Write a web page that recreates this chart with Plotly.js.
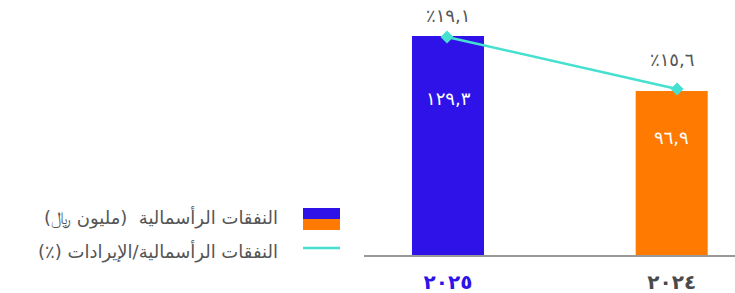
<!DOCTYPE html>
<html>
<head>
<meta charset="utf-8">
<script src="https://cdn.plot.ly/plotly-3.0.1.min.js"></script>
<style>html,body{margin:0;padding:0;background:#fff;}#chart{width:735px;height:293px;}</style>
</head>
<body>
<div id="chart"></div>
<script>
// Data
const years = ['2025', '2024'];
const yearLabels = ['٢٠٢٥', '٢٠٢٤'];
const capex = [129.3, 96.9];
const capexLabels = ['١٢٩,٣', '٩٦,٩'];
const ratio = [19.1, 15.6];
const ratioLabels = ['٪١٩,١', '٪١٥,٦'];
const legendNames = ['النفقات الرأسمالية  (مليون ﷼)', 'النفقات الرأسمالية/الإيرادات (٪)'];

const BLUE = '#2E12E8', ORANGE = '#FF7A00', TEAL = '#45E0CF', GREY = '#555555';
const barColors = [BLUE, ORANGE];
const tickColors = [BLUE, '#4a4a4a'];
const RLM = '\u200F';
const FONT = 'DejaVu Sans, sans-serif';

const traces = [
  {
    type: 'bar', x: years, y: capex, width: 0.322,
    marker: {color: barColors}, hoverinfo: 'none', showlegend: false
  },
  {
    type: 'scatter', mode: 'lines+markers', x: years, y: ratio,
    xaxis: 'x2', yaxis: 'y2',
    line: {color: TEAL, width: 2.5},
    marker: {symbol: 'diamond', size: 10, color: TEAL},
    hoverinfo: 'none', showlegend: false
  }
];

const annotations = [];
years.forEach((yr, i) => {
  annotations.push({
    x: i, xref: 'x', y: capex[i] * 0.715, yref: 'y',
    text: capexLabels[i], showarrow: false,
    font: {family: FONT, size: 18, color: '#ffffff'}
  });
  annotations.push({
    x: i, xref: 'x', y: ratio[i], yref: 'y2', yshift: i === 0 ? 21 : 29,
    text: ratioLabels[i], showarrow: false,
    font: {family: FONT, size: 18, color: GREY}
  });
});
// legend texts
const legendY = [0.1457, 0.0157];
legendNames.forEach((n, i) => {
  annotations.push({
    x: -0.2264, xref: 'paper', y: legendY[i], yref: 'paper',
    xanchor: 'right', yanchor: 'middle',
    text: RLM + n + RLM, showarrow: false,
    font: {family: FONT, size: 18, color: GREY}
  });
});

const shapes = [
  {type: 'rect', xref: 'paper', yref: 'paper', x0: -0.1644, x1: -0.0647, y0: 0.1417, y1: 0.185, fillcolor: BLUE, line: {width: 0}},
  {type: 'rect', xref: 'paper', yref: 'paper', x0: -0.1644, x1: -0.0647, y0: 0.0984, y1: 0.1417, fillcolor: ORANGE, line: {width: 0}},
  {type: 'line', xref: 'paper', yref: 'paper', x0: -0.1644, x1: -0.0647, y0: 0.0276, y1: 0.0276, line: {color: TEAL, width: 2.5}}
];

const layout = {
  width: 735, height: 293,
  margin: {l: 364, r: 0, t: 1, b: 38},
  paper_bgcolor: '#ffffff', plot_bgcolor: '#ffffff',
  showlegend: false,
  xaxis: {
    type: 'category', categoryorder: 'array', categoryarray: years,
    range: [-0.3755, 1.283],
    tickvals: years,
    ticktext: yearLabels.map((t, i) => '<span style="color:' + tickColors[i] + '"><b>' + t + '</b></span>'),
    tickfont: {family: FONT, size: 20},
    showline: true, linecolor: '#999999', linewidth: 2,
    showgrid: false, zeroline: false, ticks: '', ticklabelstandoff: 8
  },
  xaxis2: {
    type: 'category', categoryorder: 'array', categoryarray: years,
    overlaying: 'x', range: [-0.361, 1.252], visible: false
  },
  yaxis: {range: [0, 150], visible: false, showgrid: false, zeroline: false},
  yaxis2: {range: [4.43, 21.52], overlaying: 'y', visible: false, showgrid: false, zeroline: false},
  annotations: annotations,
  shapes: shapes
};

Plotly.newPlot('chart', traces, layout, {displayModeBar: false, staticPlot: true});
</script>
</body>
</html>
